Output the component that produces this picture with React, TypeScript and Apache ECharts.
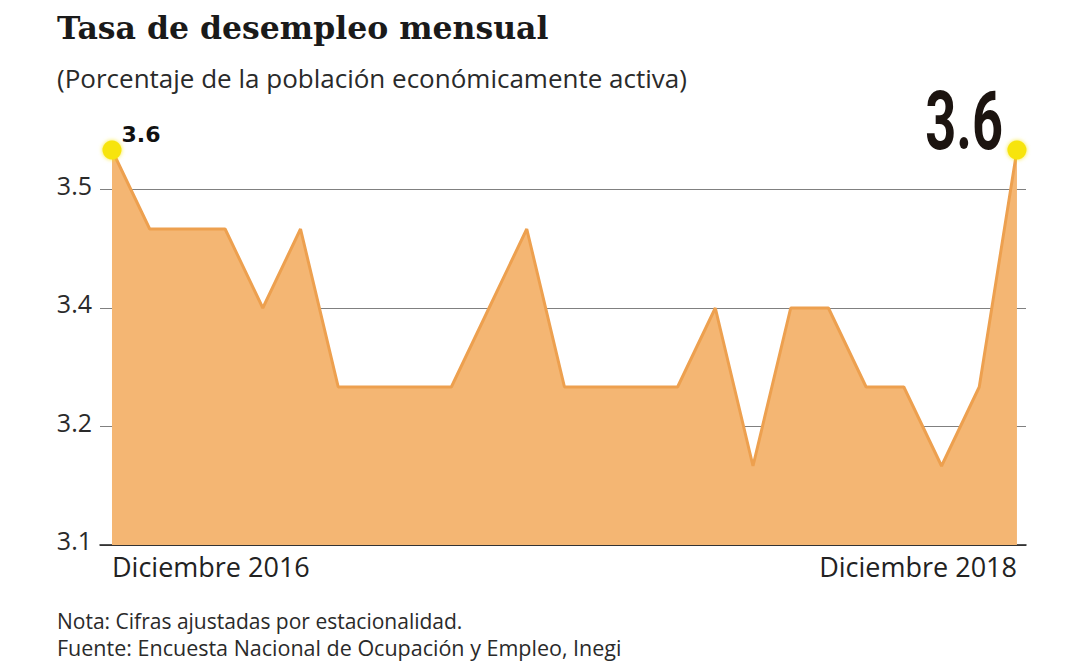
import React, { useEffect, useRef } from "react";
import * as echarts from "echarts";

const months = [
  "Dic 2016", "Ene 2017", "Feb 2017", "Mar 2017", "Abr 2017", "May 2017", "Jun 2017",
  "Jul 2017", "Ago 2017", "Sep 2017", "Oct 2017", "Nov 2017", "Dic 2017", "Ene 2018",
  "Feb 2018", "Mar 2018", "Abr 2018", "May 2018", "Jun 2018", "Jul 2018", "Ago 2018",
  "Sep 2018", "Oct 2018", "Nov 2018", "Dic 2018",
];
const rates = [
  3.6, 3.5, 3.5, 3.5, 3.4, 3.5, 3.3, 3.3, 3.3, 3.3, 3.4, 3.5, 3.3,
  3.3, 3.3, 3.3, 3.4, 3.2, 3.4, 3.4, 3.3, 3.3, 3.2, 3.3, 3.6,
];
const xTickIndex = [0, 24];
const xTickLabels = ["Diciembre 2016", "Diciembre 2018"];
const titleText = "Tasa de desempleo mensual";
const subtitleText = "(Porcentaje de la población económicamente activa)";
const noteText = "Nota: Cifras ajustadas por estacionalidad.";
const sourceText = "Fuente: Encuesta Nacional de Ocupación y Empleo, Inegi";

const SANS = "'Open Sans', 'Noto Sans', sans-serif";

export default function App() {
  const ref = useRef<HTMLDivElement>(null);
  useEffect(() => {
    document.body.style.margin = "0";
    const chart = echarts.init(ref.current!, null, { renderer: "svg" });
    const last = rates.length - 1;
    const marker = {
      symbol: "circle",
      symbolSize: 19,
      itemStyle: { color: "#f7e40d", shadowColor: "rgba(247,228,13,0.8)", shadowBlur: 4 },
    };
    const data = rates.map((v, i) => {
      if (i === 0) {
        return {
          value: [i, v],
          ...marker,
          label: {
            show: true,
            position: "inside",
            align: "center",
            verticalAlign: "middle",
            offset: [29, -16],
            formatter: () => v.toFixed(1),
            fontFamily: "'DejaVu Sans', sans-serif",
            fontWeight: "bold",
            fontSize: 22,
            color: "#111",
          },
        };
      }
      if (i === last) return { value: [i, v], ...marker };
      return [i, v];
    });
    chart.setOption({
      animation: false,
      title: [
        {
          text: titleText,
          left: 52,
          top: 6,
          textStyle: { fontFamily: "'DejaVu Serif', serif", fontWeight: "bold", fontSize: 31.5, color: "#1a1a1a" },
        },
        {
          text: subtitleText,
          left: 52,
          top: 60,
          textStyle: { fontFamily: SANS, fontWeight: "normal", fontSize: 26, color: "#2a2a2a" },
        },
        {
          text: noteText,
          left: 52,
          top: 605,
          textStyle: { fontFamily: SANS, fontWeight: "normal", fontSize: 21, color: "#2a2a2a" },
        },
        {
          text: sourceText,
          left: 52,
          top: 631,
          textStyle: { fontFamily: SANS, fontWeight: "normal", fontSize: 21.5, color: "#2a2a2a" },
        },
      ],
      grid: { left: 100, right: 55, top: 150, bottom: 121, containLabel: false },
      xAxis: {
        type: "value",
        min: -0.318,
        max: 24.24,
        axisLine: { show: true, lineStyle: { color: "#1a1a1a", width: 1.5 } },
        axisTick: { show: false },
        splitLine: { show: false },
        axisLabel: {
          customValues: xTickIndex,
          formatter: (val: number) => {
            const k = xTickIndex.indexOf(Math.round(val));
            return k >= 0 ? xTickLabels[k] : "";
          },
          alignMinLabel: "left",
          alignMaxLabel: "right",
          margin: 8,
          fontFamily: SANS,
          fontSize: 27,
          color: "#222",
        },
      },
      yAxis: {
        type: "value",
        min: 3.1,
        max: 3.6,
        interval: 0.15,
        axisLine: { show: false },
        axisTick: { show: false },
        splitLine: { show: true, showMaxLine: false, lineStyle: { color: "#808080", width: 1 } },
        axisLabel: {
          margin: 8,
          fontFamily: SANS,
          fontSize: 25,
          color: "#2a2a2a",
          verticalAlign: "bottom",
          lineHeight: 10,
          formatter: (val: number) => {
            if (Math.abs(val - 3.6) < 1e-6) return "";
            return (Math.floor(val * 10 + 1e-6) / 10).toFixed(1);
          },
        },
      },
      series: [
        {
          type: "line",
          data,
          symbol: "none",
          lineStyle: { color: "#eda04f", width: 3 },
          areaStyle: { color: "#f4b673", opacity: 1 },
          z: 3,
        },
      ],
    });
    const [px, py] = chart.convertToPixel({ seriesIndex: 0 }, [last, rates[last]]) as number[];
    chart.setOption({
      graphic: [
        {
          type: "text",
          x: px - 14,
          y: py - 29,
          scaleX: 0.66,
          z: 10,
          style: {
            text: rates[last].toFixed(1),
            align: "right",
            verticalAlign: "middle",
            fontFamily: "Roboto, sans-serif",
            fontWeight: "bold",
            fontSize: 82,
            fill: "#1c1410",
          },
        },
      ],
    });
    return () => chart.dispose();
  }, []);
  return <div ref={ref} style={{ width: 1081, height: 666 }} />;
}
